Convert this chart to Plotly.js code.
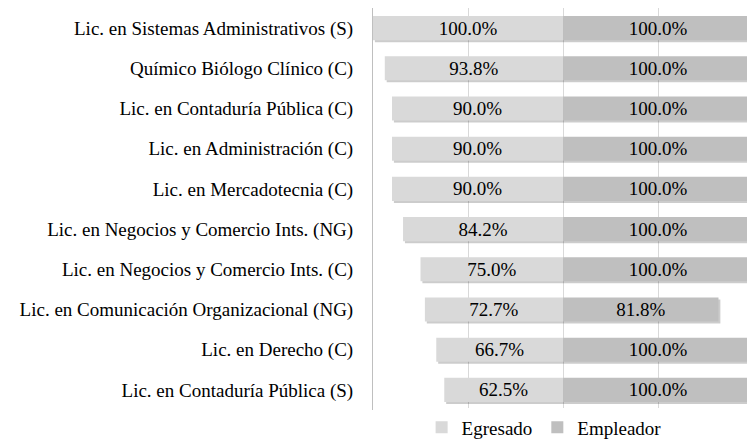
<!DOCTYPE html>
<html>
<head>
<meta charset="utf-8">
<script src="https://cdn.plot.ly/plotly-3.0.1.min.js"></script>
<style>html,body{margin:0;padding:0;background:#fff;}#chart{width:747px;height:440px;}</style>
</head>
<body>
<div id="chart"></div>
<script>
const categories = [
  "Lic. en Sistemas Administrativos (S)",
  "Químico Biólogo Clínico (C)",
  "Lic. en Contaduría Pública (C)",
  "Lic. en Administración (C)",
  "Lic. en Mercadotecnia (C)",
  "Lic. en Negocios y Comercio Ints. (NG)",
  "Lic. en Negocios y Comercio Ints. (C)",
  "Lic. en Comunicación Organizacional (NG)",
  "Lic. en Derecho (C)",
  "Lic. en Contaduría Pública (S)"
];
const egresado = [100.0, 93.8, 90.0, 90.0, 90.0, 84.2, 75.0, 72.7, 66.7, 62.5];
const empleador = [100.0, 100.0, 100.0, 100.0, 100.0, 100.0, 100.0, 81.8, 100.0, 100.0];

function mkFont() { return {family: "Liberation Serif", size: 19, color: "#000000"}; }
const SH = 1.0;   // shadow shift in axis units (~2px)

const traces = [
  {
    type: "bar", orientation: "h", name: "sombra1", showlegend: false,
    y: categories, x: egresado.map(v => -v), base: SH,
    marker: {color: "rgba(0,0,0,0.2)", line: {width: 0}},
    width: 0.6, offset: -0.25, hoverinfo: "skip"
  },
  {
    type: "bar", orientation: "h", name: "sombra2", showlegend: false,
    y: categories, x: empleador, base: SH,
    marker: {color: "rgba(0,0,0,0.2)", line: {width: 0}},
    width: 0.6, offset: -0.25, hoverinfo: "skip"
  },
  {
    type: "bar", orientation: "h", name: "Egresado",
    y: categories, x: egresado.map(v => -v),
    text: egresado.map(v => v.toFixed(1) + "%"),
    texttemplate: "%{text}", textposition: "inside", insidetextanchor: "middle",
    textfont: mkFont(), insidetextfont: mkFont(), constraintext: "none",
    marker: {color: "#d9d9d9", line: {width: 0}},
    width: 0.6, hoverinfo: "skip"
  },
  {
    type: "bar", orientation: "h", name: "Empleador",
    y: categories, x: empleador,
    text: empleador.map(v => v.toFixed(1) + "%"),
    texttemplate: "%{text}", textposition: "inside", insidetextanchor: "middle",
    textfont: mkFont(), insidetextfont: mkFont(), constraintext: "none",
    marker: {color: "#bfbfbf", line: {width: 0}},
    width: 0.6, hoverinfo: "skip"
  }
];

const layout = {
  width: 747, height: 440,
  margin: {l: 373, r: 0, t: 8, b: 30, autoexpand: false},
  paper_bgcolor: "#ffffff", plot_bgcolor: "#ffffff",
  barmode: "overlay",
  xaxis: {
    range: [-100, 96.8], dtick: 50, tick0: 0,
    showgrid: true, gridcolor: "#d9d9d9", gridwidth: 1,
    zeroline: false, showticklabels: false, ticks: "", fixedrange: true
  },
  yaxis: {
    autorange: "reversed", showline: true, linecolor: "#bfbfbf", linewidth: 1,
    showgrid: false, ticks: "", ticklabelstandoff: 15, tickfont: mkFont(), fixedrange: true
  },
  showlegend: true,
  legend: {
    orientation: "h", x: 0.13, xanchor: "left", y: 0.004, yanchor: "top",
    font: mkFont(), itemwidth: 30, traceorder: "normal"
  }
};

function forceFont() {
  document.querySelectorAll("#chart svg text").forEach(t => {
    t.style.setProperty("font-family", "'Liberation Serif', 'Times New Roman', serif", "important");
  });
}
const gd = document.getElementById("chart");
Plotly.newPlot(gd, traces, layout, {displayModeBar: false, staticPlot: true}).then(() => {
  forceFont();
  gd.on("plotly_afterplot", forceFont);
});
</script>
</body>
</html>
